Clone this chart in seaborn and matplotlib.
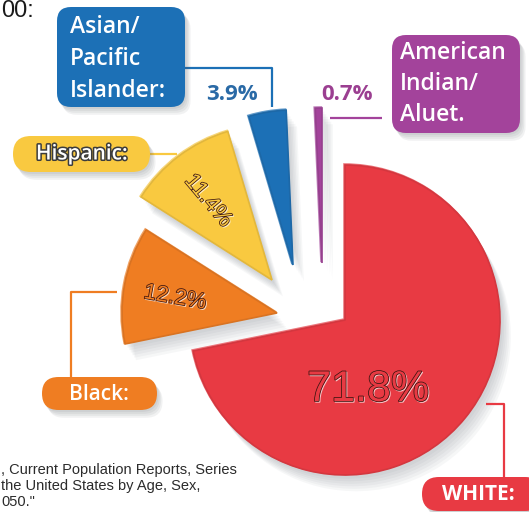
import matplotlib
matplotlib.use("Agg")
import matplotlib.pyplot as plt
import matplotlib.patheffects as pe
from matplotlib.patches import FancyBboxPatch
import seaborn as sns

# Data
groups = ["White", "Black", "Hispanic", "Asian/Pacific Islander", "American Indian/Aluet."]
shares = [71.8, 12.2, 11.4, 3.9, 0.7]
share_labels = ["71.8%", "12.2%", "11.4%", "3.9%", "0.7%"]
box_labels = ["WHITE:", "Black:", "Hispanic:", "Asian/\nPacific\nIslander:", "American\nIndian/\nAluet."]
source_lines = [", Current Population Reports, Series", "the United States by Age, Sex,", "050.\""]

sns.set_theme(style="white")
plt.rcParams['font.family'] = ['Open Sans', 'DejaVu Sans']

base = sns.color_palette(["#e83a43", "#ef7d22", "#f9c940", "#1c70b6", "#a3439b"])
dark = [sns.dark_palette(c, 10)[8] for c in base]
light = [sns.light_palette(c, 10)[6] for c in base]

fig = plt.figure(figsize=(5.29, 5.12), dpi=100)
ax = fig.add_axes([0, 0, 1, 1])

# pie drawn in pixel coordinates, y axis pointing down
cx, cy, r = 345, 320, 155
shift = [(0, 0), (-68, -7), (-73, -40), (-52, -55), (-23, -57)]

wedges, _ = ax.pie(shares, colors=base, startangle=270, counterclock=True,
                   radius=r, center=(cx, cy),
                   wedgeprops=dict(linewidth=1.2))

for i, w in enumerate(wedges):
    w.set_center((cx + shift[i][0], cy + shift[i][1]))
    w.set_edgecolor(dark[i])
    effects = [pe.SimplePatchShadow(offset=(d * 0.6, -d * 0.9), shadow_rgbFace="#6f7780", alpha=0.06)
               for d in (3, 5, 7, 9, 11, 13)]
    effects += [pe.Stroke(linewidth=1.4, foreground=light[i], offset=(-0.6, 0.6)), pe.Normal()]
    w.set_path_effects(effects)

# engraved percentages inside the big slices
engrave = lambda i: [pe.Stroke(linewidth=1.0, foreground="white", offset=(0.7, -0.7), alpha=0.7),
                     pe.Stroke(linewidth=1.1, foreground="#3b1410"), pe.Normal()]
ax.text(368, 390, share_labels[0], fontsize=31, family="Liberation Sans", color=base[0],
        ha="center", va="center", path_effects=engrave(0))
ax.text(175, 298, share_labels[1], fontsize=16, family="Liberation Sans", color=base[1],
        ha="center", va="center", rotation=-10, path_effects=engrave(1))
ax.text(208, 201, share_labels[2], fontsize=16, family="Liberation Sans", color=base[2],
        ha="center", va="center", rotation=-50, path_effects=engrave(2))

# small slice percentages
ax.text(232, 95, share_labels[3], fontsize=16, fontweight="bold", color="#2a6aa6",
        ha="center", va="center")
ax.text(347, 95, share_labels[4], fontsize=16, fontweight="bold", color="#9b3f91",
        ha="center", va="center")

# connector lines
lines = [([486, 504, 504], [404, 404, 477]),
         ([117, 71, 71], [292, 292, 377]),
         ([150, 177], [154, 154]),
         ([185, 272, 272], [68, 68, 107]),
         ([330, 382], [118, 118])]
for i, (xs, ys) in enumerate(lines):
    ax.plot(xs, ys, color=base[i], lw=1.6, solid_capstyle="butt", zorder=1)

# label boxes
box_shadow = [pe.SimplePatchShadow(offset=(d * 0.5, -d * 0.7), shadow_rgbFace="#555b63", alpha=0.08)
              for d in (2, 4, 6, 8)] + [pe.Normal()]
boxes = [(422, 477, 120, 34, 17), (42, 377, 115, 33, 16.5), (13, 136, 137, 36, 18),
         (57, 7, 128, 100, 14), (392, 35, 128, 98, 14)]
for i, (x0, y0, bw, bh, rs) in enumerate(boxes):
    p = FancyBboxPatch((x0, y0), bw, bh, boxstyle=f"round,pad=0,rounding_size={rs}",
                       fc=base[i], ec="none", zorder=3)
    p.set_path_effects(box_shadow)
    ax.add_patch(p)

ax.text(478, 495, box_labels[0], fontsize=15, fontweight="bold", color="white",
        ha="center", va="center", zorder=4)
ax.text(99, 394, box_labels[1], fontsize=15, fontweight="semibold", color="white",
        ha="center", va="center", zorder=4)
ax.text(82, 154, box_labels[2], fontsize=15, fontweight="semibold", color="white",
        ha="center", va="center", zorder=4,
        path_effects=[pe.withStroke(linewidth=2.2, foreground="#3c3c3c")])
for k, s in enumerate(box_labels[3].split("\n")):
    ax.text(70, 33 + k * 32, s, fontsize=16.5, fontweight="semibold", color="white",
            ha="left", va="baseline", zorder=4)
for k, s in enumerate(box_labels[4].split("\n")):
    ax.text(400, 59 + k * 31, s, fontsize=16.5, fontweight="semibold", color="white",
            ha="left", va="baseline", zorder=4)

# title fragment and source note
ax.text(1, 17, "00:", fontsize=17, family="Liberation Sans", color="#1a1a1a", va="baseline")
for k, s in enumerate(source_lines):
    ax.text(1, 474 + k * 16, s, fontsize=10.5, family="Liberation Sans", color="#2b2b2b",
            va="baseline")

ax.set_xlim(0, 529)
ax.set_ylim(512, 0)
ax.set_aspect("auto")
ax.axis("off")

fig.savefig("out.png", dpi=100)
